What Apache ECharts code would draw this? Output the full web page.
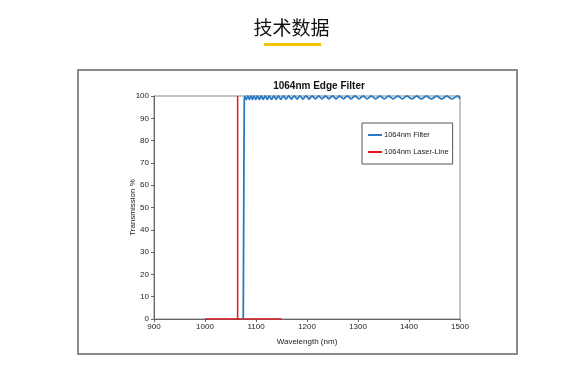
<!DOCTYPE html>
<html><head><meta charset="utf-8">
<script src="https://cdn.jsdelivr.net/npm/echarts@6/dist/echarts.min.js"></script>
<style>html,body{margin:0;padding:0;background:#fff}#c{width:583px;height:386px}</style>
</head><body><div id="c"></div>
<script>
// Data
const pageTitle = '技术数据';
const chartTitle = '1064nm Edge Filter';
const seriesNames = ['1064nm Filter', '1064nm Laser-Line'];
const xTicks = [900, 1000, 1100, 1200, 1300, 1400, 1500];
const yTicks = [0, 10, 20, 30, 40, 50, 60, 70, 80, 90, 100];
// filter curve: wavelength (nm) and transmission (%)
const filterWavelength = [1075, 1076, 1077, 1078, 1081, 1084, 1087, 1090, 1093, 1096, 1099.5, 1103, 1106.5, 1110, 1114, 1118, 1122, 1126, 1130.5, 1135, 1139.5, 1144, 1149, 1154, 1159, 1164, 1169.5, 1175, 1180.5, 1186, 1192, 1198, 1204, 1210, 1216.5, 1223, 1229.5, 1236, 1243, 1250, 1257, 1264, 1271.5, 1279, 1286.5, 1294, 1302, 1310, 1318, 1326, 1334.5, 1343, 1351.5, 1360, 1369, 1378, 1387, 1396, 1405.5, 1415, 1424.5, 1434, 1444, 1454, 1464, 1474, 1484.5, 1495, 1500];
const filterTransmission = [0, 50, 98, 99.8, 98.4, 100, 98.4, 100, 98.4, 100, 98.4, 100, 98.4, 100, 98.5, 100, 98.5, 100, 98.5, 100, 98.5, 100, 98.5, 100, 98.6, 100, 98.6, 100, 98.6, 100, 98.6, 100, 98.6, 100, 98.7, 100, 98.7, 100, 98.7, 100, 98.7, 100, 98.7, 100, 98.7, 100, 98.7, 100, 98.7, 100, 98.7, 100, 98.7, 100, 98.7, 100, 98.7, 100, 98.7, 100, 98.7, 100, 98.7, 100, 98.7, 100, 98.7, 100, 98.7, 100, 99];
// laser line
const laserWavelength = [1000, 1064, 1064, 1064, 1150];
const laserTransmission = [0, 0, 100, 0, 0];

const pair = (xs, ys) => xs.map((x, i) => [x, ys[i]]);
const font = 'Liberation Sans, Arial, sans-serif';

const chart = echarts.init(document.getElementById('c'), null, {renderer: 'canvas'});
chart.setOption({
  animation: false,
  backgroundColor: '#fff',
  graphic: [
    {type: 'rect', shape: {x: 78, y: 70, width: 439, height: 284}, style: {fill: 'none', stroke: '#8a8a8a', lineWidth: 2}},
    {type: 'text', left: 'center', top: 18, style: {text: pageTitle, font: '19px "Noto Sans CJK SC", sans-serif', fill: '#111'}},
    {type: 'rect', shape: {x: 264, y: 43, width: 57, height: 3}, style: {fill: '#f4c400'}}
  ],
  title: {text: chartTitle, left: 314, top: 76, textAlign: 'center',
    textStyle: {fontFamily: font, fontSize: 10, fontWeight: 'bold', color: '#111'}},
  legend: {
    orient: 'vertical', left: 362, top: 123,
    backgroundColor: '#fff', borderColor: '#555', borderWidth: 1,
    padding: [8, 4, 8, 6], itemGap: 9, itemWidth: 14, itemHeight: 2,
    icon: 'rect',
    textStyle: {fontFamily: font, fontSize: 7.5, color: '#222', padding: [0, 0, 0, -3]},
    data: seriesNames
  },
  grid: {left: 154, right: 123, top: 96, bottom: 67, show: true, borderColor: '#8a8a8a', borderWidth: 1, backgroundColor: '#fff'},
  xAxis: {
    type: 'value', min: xTicks[0], max: xTicks[xTicks.length - 1], interval: 100,
    name: 'Wavelength (nm)', nameLocation: 'middle', nameGap: 19, nameMoveOverlap: false,
    nameTextStyle: {fontFamily: font, fontSize: 8, color: '#222'},
    axisLine: {show: true, lineStyle: {color: '#666', width: 1}},
    axisTick: {show: true, length: 3, lineStyle: {color: '#666'}},
    axisLabel: {fontFamily: font, fontSize: 8, color: '#222', margin: 4, formatter: v => String(v)},
    splitLine: {show: false}
  },
  yAxis: {
    type: 'value', min: yTicks[0], max: yTicks[yTicks.length - 1], interval: 10,
    name: 'Transmission %', nameLocation: 'middle', nameGap: 17, nameRotate: 90, nameMoveOverlap: false,
    nameTextStyle: {fontFamily: font, fontSize: 8, color: '#222'},
    axisLine: {show: true, lineStyle: {color: '#666', width: 1}},
    axisTick: {show: true, length: 3, lineStyle: {color: '#666'}},
    axisLabel: {fontFamily: font, fontSize: 8, color: '#222', margin: 5, formatter: v => String(v)},
    splitLine: {show: false}
  },
  series: [
    {name: seriesNames[0], type: 'line', data: pair(filterWavelength, filterTransmission),
      showSymbol: false, symbol: 'none', smooth: 0.3, lineStyle: {color: '#2a7bc4', width: 1.8}, itemStyle: {color: '#2a7bc4'}, z: 3},
    {name: seriesNames[1], type: 'line', data: pair(laserWavelength, laserTransmission),
      showSymbol: false, symbol: 'none', lineStyle: {color: '#e8141c', width: 1.5}, itemStyle: {color: '#e8141c'}, z: 2}
  ]
});
</script></body></html>
